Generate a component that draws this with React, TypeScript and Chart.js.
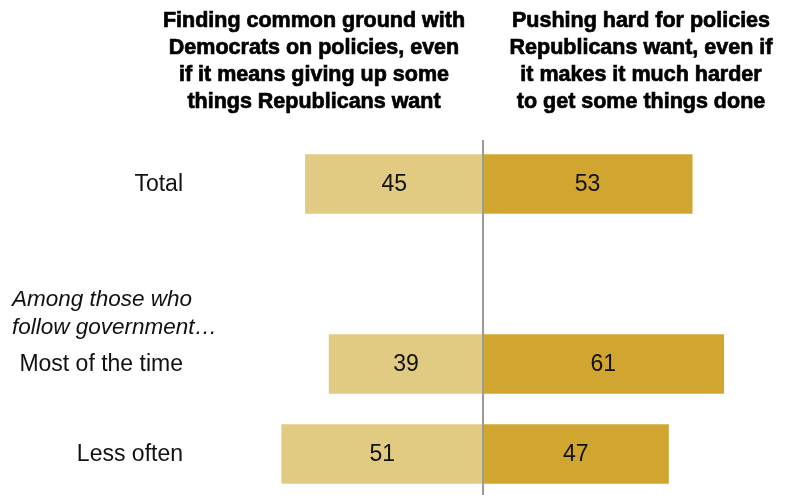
import React, { useEffect, useRef } from "react";
import { Chart, registerables } from "chart.js";

Chart.register(...registerables);

const categories = ["Total", "", "Most of the time", "Less often"];
const commonGround = [45, null, 39, 51];
const pushHard = [53, null, 61, 47];
const leftHeader = [
  "Finding common ground with",
  "Democrats on policies, even",
  "if it means giving up some",
  "things Republicans want",
];
const rightHeader = [
  "Pushing hard for policies",
  "Republicans want, even if",
  "it makes it much harder",
  "to get some things done",
];
const subgroupNote = ["Among those who", "follow government\u2026"];

const FONT = '"Liberation Sans", Arial, sans-serif';

export default function App() {
  const ref = useRef<HTMLCanvasElement | null>(null);

  useEffect(() => {
    const canvas = ref.current;
    if (!canvas) return;
    const textPlugin = {
      id: "pewText",
      afterDatasetsDraw(chart: any) {
        const ctx = chart.ctx;
        const xs = chart.scales.x;
        const ys = chart.scales.y;
        const x0 = xs.getPixelForValue(0);
        ctx.save();
        // center line
        ctx.strokeStyle = "#9a9a9a";
        ctx.lineWidth = 2;
        ctx.beginPath();
        ctx.moveTo(x0, 140);
        ctx.lineTo(x0, chart.height);
        ctx.stroke();

        // value labels
        ctx.fillStyle = "#111";
        ctx.font = `23px ${FONT}`;
        ctx.textAlign = "center";
        ctx.textBaseline = "middle";
        chart.data.datasets.forEach((ds: any, di: number) => {
          const meta = chart.getDatasetMeta(di);
          meta.data.forEach((bar: any, i: number) => {
            const v = ds.data[i];
            if (v === null || v === undefined) return;
            const cx = (bar.x + bar.base) / 2;
            ctx.fillText(String(Math.abs(v)), cx, bar.y + 1);
          });
        });

        // category labels
        ctx.textAlign = "right";
        categories.forEach((c, i) => {
          if (!c) return;
          ctx.fillText(c, 183, ys.getPixelForValue(i) + 1);
        });

        // subgroup note
        ctx.font = `italic 22.5px ${FONT}`;
        ctx.textAlign = "left";
        ctx.textBaseline = "alphabetic";
        ctx.fillText(subgroupNote[0], 12, 306);
        ctx.fillText(subgroupNote[1], 12, 334);

        // headers
        ctx.font = `bold 21.5px ${FONT}`;
        ctx.fillStyle = "#000";
        ctx.strokeStyle = "#000";
        ctx.lineWidth = 0.7;
        ctx.textAlign = "center";
        const drawHeader = (lines: string[], cx: number) =>
          lines.forEach((t, i) => {
            ctx.fillText(t, cx, 27 + i * 27);
            ctx.strokeText(t, cx, 27 + i * 27);
          });
        drawHeader(leftHeader, x0 - 169);
        drawHeader(rightHeader, x0 + 158);
        ctx.restore();
      },
    };

    const chart = new Chart(canvas, {
      type: "bar",
      data: {
        labels: categories,
        datasets: [
          {
            label: "Common ground",
            data: commonGround.map((v) => (v === null ? null : -v)),
            backgroundColor: "#E1CA82",
            barThickness: 59,
          },
          {
            label: "Push hard",
            data: pushHard,
            backgroundColor: "#D1A630",
            barThickness: 59,
          },
        ],
      },
      options: {
        indexAxis: "y",
        responsive: false,
        animation: false,
        layout: { padding: { left: 187, right: 8, top: 139, bottom: 0 } },
        plugins: { legend: { display: false }, tooltip: { enabled: false } },
        scales: {
          x: { display: false, stacked: true, min: -75, max: 75 },
          y: { display: false, stacked: true, offset: true },
        },
      },
      plugins: [textPlugin],
    } as any);
    return () => chart.destroy();
  }, []);

  return (
    <div
      style={{
        position: "fixed",
        left: 0,
        top: 0,
        width: 787,
        height: 495,
        overflow: "hidden",
        background: "#fff",
      }}
    >
      <canvas ref={ref} width={787} height={499} style={{ width: 787, height: 499, display: "block" }} />
    </div>
  );
}
